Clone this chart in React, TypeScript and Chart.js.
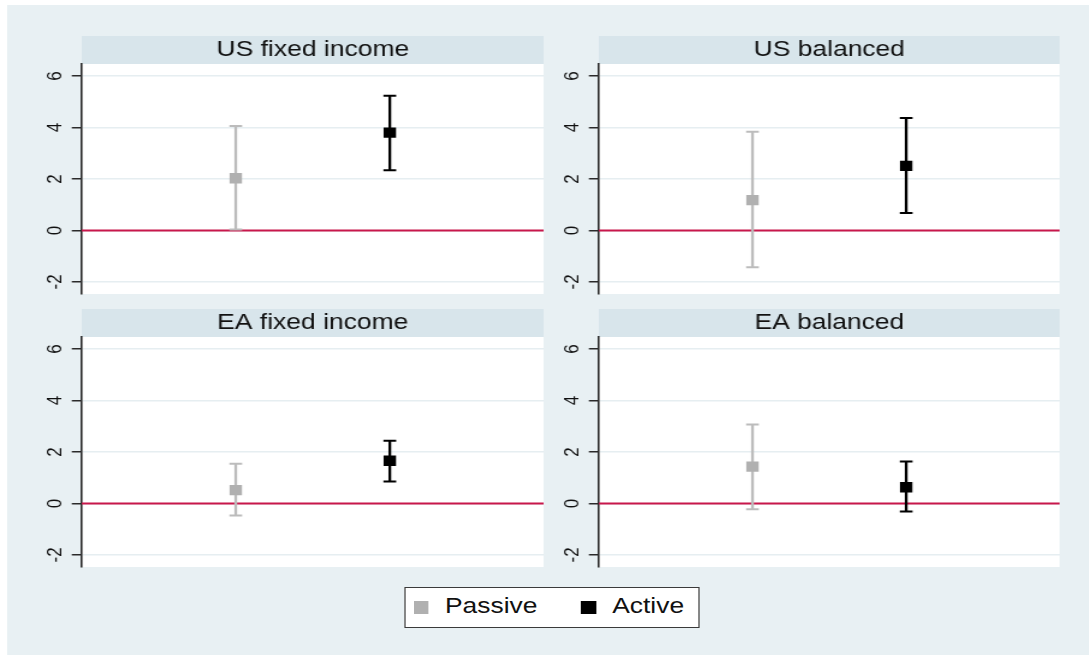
import React, { useEffect, useRef } from 'react';
import { Chart, registerables } from 'chart.js';

Chart.register(...registerables);

// ---------- data ----------
const PANEL_TITLES = ['US fixed income', 'US balanced', 'EA fixed income', 'EA balanced'];
const SERIES = ['Passive', 'Active'];
const GROUP_X = [1, 2];
const X_RANGE = [0, 3];
const Y_RANGE = [-2.47, 6.47];
const Y_TICKS = [-2, 0, 2, 4, 6];
const REF_Y = 0;

const PASSIVE_MEAN = [2.03, 1.18, 0.52, 1.43];
const PASSIVE_LO = [0.04, -1.43, -0.47, -0.23];
const PASSIVE_HI = [4.06, 3.84, 1.54, 3.07];

const ACTIVE_MEAN = [3.8, 2.51, 1.66, 0.63];
const ACTIVE_LO = [2.34, 0.68, 0.85, -0.31];
const ACTIVE_HI = [5.24, 4.37, 2.44, 1.63];

// ---------- style / layout ----------
const FONT = "'Liberation Sans', Arial, Helvetica, sans-serif";
const W = 1089;
const H = 655;
const S = 1.2; // horizontal stretch of the original figure
const BG = '#e8f0f3';
const STRIP = '#d8e5eb';
const GRID = '#e6eef1';
const AXIS = '#2a2a2a';
const TEXT = '#111111';
const REF_COLOR = '#c8174b';
const MARK_COLORS = ['#b0b0b0', '#000000'];
const WHISKER_COLORS = ['#bcbcbc', '#000000'];

const AXIS_W = 45;
const PAD_B = 17;
const STRIP_H = 28;
const PLOT_H = 230;
const PLOT_W = 384.2;
const COL_LEFT = [82 / S, 599 / S];
const ROW_TOP = [36, 309];

Chart.defaults.font.family = FONT;

const panelBgPlugin = {
  id: 'panelBg',
  beforeDraw(chart: any) {
    const { ctx, chartArea: a } = chart;
    ctx.save();
    ctx.fillStyle = STRIP;
    ctx.fillRect(a.left, 0, a.right - a.left, a.top);
    ctx.fillStyle = '#ffffff';
    ctx.fillRect(a.left, a.top, a.right - a.left, a.bottom - a.top);
    ctx.restore();
  },
};

function Panel({ idx, left, top }: { idx: number; left: number; top: number }) {
  const ref = useRef<HTMLCanvasElement>(null);
  useEffect(() => {
    if (!ref.current) return;
    const means = [PASSIVE_MEAN[idx], ACTIVE_MEAN[idx]];
    const los = [PASSIVE_LO[idx], ACTIVE_LO[idx]];
    const his = [PASSIVE_HI[idx], ACTIVE_HI[idx]];
    const datasets: any[] = [
      {
        type: 'line',
        label: 'ref',
        data: [
          { x: X_RANGE[0], y: REF_Y },
          { x: X_RANGE[1], y: REF_Y },
        ],
        borderColor: REF_COLOR,
        borderWidth: 2,
        pointRadius: 0,
        order: 10,
      },
    ];
    SERIES.forEach((name, s) => {
      datasets.push({
        type: 'line',
        label: name + ' CI',
        data: [
          { x: GROUP_X[s], y: los[s] },
          { x: GROUP_X[s], y: his[s] },
        ],
        borderColor: WHISKER_COLORS[s],
        borderWidth: 2.3,
        pointStyle: 'line',
        pointRadius: 5.3,
        pointBorderWidth: 2,
        pointBorderColor: WHISKER_COLORS[s],
        pointBackgroundColor: WHISKER_COLORS[s],
        order: 5,
      });
    });
    SERIES.forEach((name, s) => {
      datasets.push({
        type: 'scatter',
        label: name,
        data: [{ x: GROUP_X[s], y: means[s] }],
        pointStyle: 'rect',
        pointRadius: 7.3,
        pointBorderWidth: 0,
        backgroundColor: MARK_COLORS[s],
        borderColor: MARK_COLORS[s],
        order: 1,
      });
    });

    const chart = new Chart(ref.current, {
      type: 'scatter',
      data: { datasets },
      plugins: [panelBgPlugin],
      options: {
        animation: false,
        responsive: true,
        maintainAspectRatio: false,
        events: [],
        layout: { autoPadding: false, padding: { left: 0, right: 0, top: 0, bottom: PAD_B } },
        scales: {
          x: { type: 'linear', min: X_RANGE[0], max: X_RANGE[1], display: false },
          y: {
            type: 'linear',
            min: Y_RANGE[0],
            max: Y_RANGE[1],
            afterBuildTicks: (a: any) => {
              a.ticks = Y_TICKS.map((v) => ({ value: v }));
            },
            afterFit: (a: any) => {
              a.width = AXIS_W;
            },
            grid: {
              color: GRID,
              lineWidth: 1.5,
              tickLength: 8.3,
              tickColor: AXIS,
              tickWidth: 1.5,
            },
            border: { display: true, color: AXIS, width: 1.6 },
            ticks: {
              minRotation: 90,
              maxRotation: 90,
              crossAlign: 'center',
              padding: 5.5,
              color: TEXT,
              font: { size: 17 },
            },
          },
        },
        plugins: {
          legend: { display: false },
          tooltip: { enabled: false },
          title: {
            display: true,
            text: PANEL_TITLES[idx],
            fullSize: false,
            padding: 0,
            color: TEXT,
            font: { size: 22, weight: 'normal', lineHeight: STRIP_H / 22 },
          },
        },
      } as any,
    });
    return () => chart.destroy();
  }, [idx]);

  return (
    <div
      style={{
        position: 'absolute',
        left,
        top,
        width: AXIS_W + PLOT_W,
        height: STRIP_H + PLOT_H + PAD_B,
      }}
    >
      <canvas ref={ref} />
    </div>
  );
}

function Legend() {
  const sq = (c: string) => (
    <span style={{ display: 'inline-block', width: 12.4, height: 12.4, background: c, flex: '0 0 auto' }} />
  );
  return (
    <div
      style={{
        position: 'absolute',
        left: 404.3 / S,
        top: 586.7,
        width: 295 / S,
        height: 41.6,
        boxSizing: 'border-box',
        border: '1.7px solid #3a3a3a',
        background: '#ffffff',
        display: 'flex',
        alignItems: 'center',
        paddingLeft: 7.1,
        fontFamily: FONT,
        fontSize: 22,
        lineHeight: '22px',
        color: TEXT,
        whiteSpace: 'nowrap',
      }}
    >
      {sq(MARK_COLORS[0])}
      <span style={{ marginLeft: 13.4, position: 'relative', top: -1 }}>{SERIES[0]}</span>
      <span style={{ marginLeft: 36.6, display: 'flex' }}>{sq(MARK_COLORS[1])}</span>
      <span style={{ marginLeft: 13.35, position: 'relative', top: -1 }}>{SERIES[1]}</span>
    </div>
  );
}

export default function App() {
  return (
    <div
      style={{
        position: 'fixed',
        left: 0,
        top: 0,
        width: W,
        height: H,
        background: '#ffffff',
        overflow: 'hidden',
      }}
    >
      <div
        style={{
          position: 'absolute',
          left: 0,
          top: 0,
          width: W / S,
          height: H,
          transform: `scaleX(${S})`,
          transformOrigin: '0 0',
        }}
      >
        <div style={{ position: 'absolute', left: 7 / S, top: 5, right: 0, bottom: 0, background: BG }} />
        {PANEL_TITLES.map((t, i) => (
          <Panel key={t} idx={i} left={COL_LEFT[i % 2] - AXIS_W} top={ROW_TOP[Math.floor(i / 2)]} />
        ))}
        <Legend />
      </div>
    </div>
  );
}
